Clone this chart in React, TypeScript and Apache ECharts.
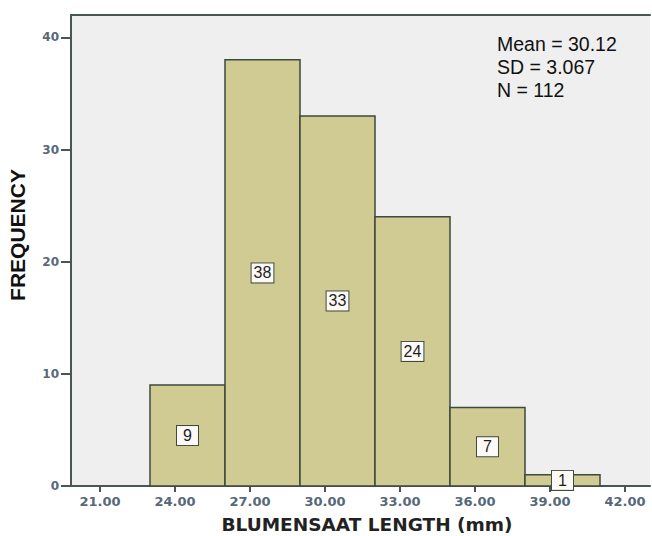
import React, { useEffect, useRef } from "react";
import * as echarts from "echarts";

const binStarts = [23, 26, 29, 32, 35, 38];
const binWidth = 3;
const counts = [9, 38, 33, 24, 7, 1];
const xTicks = [21, 24, 27, 30, 33, 36, 39, 42];
const yTicks = [0, 10, 20, 30, 40];
const statsLines = ["Mean = 30.12", "SD = 3.067", "N = 112"];
const xTitle = "BLUMENSAAT LENGTH (mm)";
const yTitle = "FREQUENCY";

export default function App() {
  const ref = useRef<HTMLDivElement>(null);
  useEffect(() => {
    const chart = echarts.init(ref.current!, null, { renderer: "svg" });
    const data = binStarts.map((s, i) => [s, s + binWidth, counts[i]]);
    const axisColor = "#4a5656";
    const labelColor = "#56687a";
    chart.setOption({
      animation: false,
      backgroundColor: "#ffffff",
      grid: {
        left: 71,
        right: 2,
        top: 15,
        bottom: 50,
        show: true,
        backgroundColor: "#efefef",
        borderWidth: 0,
      },
      xAxis: [
        {
          type: "value",
          min: 19.84,
          max: 43,
          axisLine: { show: true, lineStyle: { color: axisColor, width: 2 } },
          axisTick: {
            show: true,
            customValues: xTicks,
            length: 6,
            lineStyle: { color: axisColor, width: 2 },
          },
          axisLabel: {
            customValues: xTicks,
            formatter: (v: number) => v.toFixed(2),
            color: labelColor,
            fontFamily: "DejaVu Sans",
            fontWeight: "bold",
            fontSize: 13,
            margin: 9,
          },
          splitLine: { show: false },
        },
        {
          type: "value",
          position: "top",
          min: 19.84,
          max: 43,
          axisLine: { show: true, lineStyle: { color: axisColor, width: 2 } },
          axisTick: { show: false },
          axisLabel: { show: false },
          splitLine: { show: false },
        },
      ],
      yAxis: {
        type: "value",
        min: 0,
        max: 42,
        axisLine: { show: true, lineStyle: { color: axisColor, width: 2 } },
        axisTick: {
          show: true,
          customValues: yTicks,
          length: 10,
          lineStyle: { color: axisColor, width: 2 },
        },
        axisLabel: {
          customValues: yTicks,
          color: labelColor,
          fontFamily: "DejaVu Sans",
          fontWeight: "bold",
          fontSize: 12,
          margin: 12,
        },
        splitLine: { show: false },
      },
      series: [
        {
          type: "custom",
          xAxisIndex: 0,
          data,
          renderItem: (params: any, api: any) => {
            const x0 = api.value(0);
            const x1 = api.value(1);
            const c = api.value(2);
            const p0 = api.coord([x0, c]);
            const p1 = api.coord([x1, 0]);
            const mid = api.coord([(x0 + x1) / 2, c / 2]);
            const txt = String(c);
            const padH = Math.max(2, (21 - txt.length * 8.9) / 2);
            return {
              type: "group",
              children: [
                {
                  type: "rect",
                  shape: { x: p0[0], y: p0[1], width: p1[0] - p0[0], height: p1[1] - p0[1] },
                  style: { fill: "#cfcb93", stroke: "#3e4a3c", lineWidth: 1.5 },
                },
                {
                  type: "text",
                  x: mid[0],
                  y: mid[1],
                  style: {
                    text: txt,
                    fontFamily: "Liberation Sans",
                    fontSize: 16,
                    fill: "#1e1e1e",
                    align: "center",
                    verticalAlign: "middle",
                    backgroundColor: "#fdf9f6",
                    borderColor: "#3e4a3c",
                    borderWidth: 1,
                    padding: [2, padH, 1, padH],
                  },
                },
              ],
            };
          },
        },
      ],
      graphic: [
        {
          type: "text",
          left: 497,
          top: 32,
          style: {
            text: statsLines.join("\n"),
            fontFamily: "Liberation Sans",
            fontSize: 19.5,
            lineHeight: 23,
            fill: "#111",
          },
        },
        {
          type: "text",
          x: 367,
          y: 524,
          style: {
            text: xTitle,
            fontFamily: "DejaVu Sans",
            fontWeight: "bold",
            fontSize: 18.5,
            fill: "#222",
            align: "center",
            verticalAlign: "middle",
          },
        },
        {
          type: "text",
          x: 17,
          y: 235,
          rotation: Math.PI / 2,
          style: {
            text: yTitle,
            fontFamily: "Liberation Sans",
            fontWeight: "bold",
            fontSize: 21,
            fill: "#111",
            align: "center",
            verticalAlign: "middle",
          },
        },
      ],
    });
    return () => chart.dispose();
  }, []);
  return (
    <div
      ref={ref}
      style={{ position: "fixed", left: 0, top: 0, width: 652, height: 536 }}
    />
  );
}
